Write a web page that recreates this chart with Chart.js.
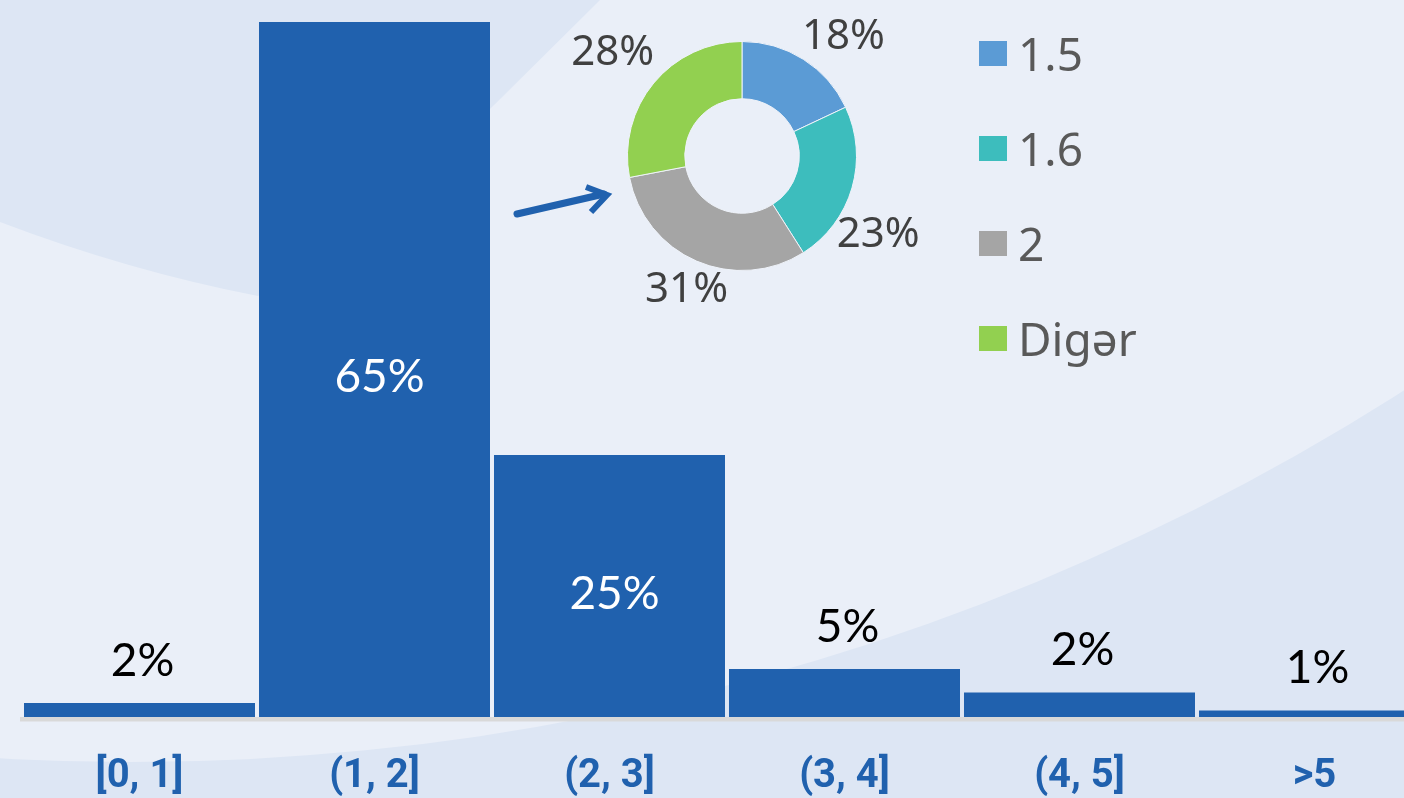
<!DOCTYPE html>
<html>
<head>
<meta charset="utf-8">
<script src="https://cdn.jsdelivr.net/npm/chart.js@4"></script>
<style>
    html, body { margin: 0; padding: 0; }
    body { width: 1404px; height: 798px; overflow: hidden; background: #eaeff8; position: relative; }
    #barCanvas { position: absolute; left: 0; top: 0; }
    #donutCanvas { position: absolute; left: 542px; top: -14px; }
    #donutLegend { position: absolute; left: 979px; top: 30px; font-family: 'Noto Sans', sans-serif; }
    .legend-item { display: flex; align-items: center; height: 47px; margin-bottom: 48px; }
    .legend-box { width: 28px; height: 25px; }
    .legend-text { margin-left: 11px; font-size: 46px; line-height: 47px; color: #595959; }
</style>
</head>
<body>
<canvas id="barCanvas" width="1440" height="798"></canvas>
<canvas id="donutCanvas" width="400" height="340"></canvas>
<div id="donutLegend"></div>

<script>
// ========== DATA ==========
const categories = ['[0, 1]', '(1, 2]', '(2, 3]', '(3, 4]', '(4, 5]', '>5'];
const barValues = [1.3, 65, 24.5, 4.5, 2.3, 0.6];          // bar heights as drawn
const barLabels = ['2%', '65%', '25%', '5%', '2%', '1%'];   // printed shares

const gradeLabels = ['1.5', '1.6', '2', 'Digər'];
const gradeShares = [18, 23, 31, 28];
const gradeColors = ['#5b9bd5', '#3dbdbd', '#a5a5a5', '#92d050'];

const BAR_BLUE = '#2061ae';
const BG_LIGHT = '#eaeff8';
const BG_DARK = '#dde6f4';

// label nudges for the donut (degrees along the ring, px outside the ring)
const donutLabelNudge = [
    { da: 8, dr: 42 },
    { da: 14, dr: 43 },
    { da: -1, dr: 31 },
    { da: -1, dr: 51 }
];

// ========== BACKGROUND + ARROW ==========
const bgPlugin = {
    id: 'bg',
    beforeDraw(chart) {
        const c = chart.ctx;
        c.save();
        c.fillStyle = BG_DARK;
        c.fillRect(0, 0, chart.width, chart.height);
        // big light arc
        c.beginPath();
        c.arc(131, -1604, 2366, 0, Math.PI * 2);
        c.fillStyle = BG_LIGHT;
        c.fill();
        // darker shape top-left
        c.beginPath();
        c.moveTo(0, 0);
        c.lineTo(600, 0);
        c.lineTo(491, 108);
        c.lineTo(258, 296);
        c.quadraticCurveTo(129, 271, 0, 222);
        c.closePath();
        c.fillStyle = BG_DARK;
        c.fill();
        c.restore();
    },
    afterDraw(chart) {
        const c = chart.ctx;
        c.save();
        c.strokeStyle = BAR_BLUE;
        c.lineWidth = 7;
        c.lineCap = 'round';
        c.beginPath();
        c.moveTo(517, 214);
        c.lineTo(604, 194);
        c.stroke();
        c.lineCap = 'butt';
        c.lineJoin = 'miter';
        c.lineWidth = 6;
        c.beginPath();
        c.moveTo(586, 187);
        c.lineTo(607, 195);
        c.lineTo(591, 212);
        c.stroke();
        c.restore();
    }
};

// ========== BAR LABELS + AXIS LINE ==========
const barLabelPlugin = {
    id: 'barLabels',
    afterDatasetsDraw(chart) {
        const c = chart.ctx;
        const area = chart.chartArea;
        c.save();
        c.fillStyle = '#d9d9d9';
        c.fillRect(20, area.bottom, chart.width - 20, 4.5);

        c.font = '400 46px Lato, sans-serif';
        c.textAlign = 'center';
        c.textBaseline = 'middle';
        chart.getDatasetMeta(0).data.forEach((bar, i) => {
            if (barValues[i] > 10) {
                c.fillStyle = '#ffffff';
                c.fillText(barLabels[i], bar.x + 5, (bar.y + bar.base) / 2 + 8);
            } else {
                c.fillStyle = '#000000';
                c.fillText(barLabels[i], bar.x + 3, bar.y - 42);
            }
        });
        c.restore();
    }
};

new Chart(document.getElementById('barCanvas'), {
    type: 'bar',
    data: {
        labels: categories,
        datasets: [{
            data: barValues,
            backgroundColor: BAR_BLUE,
            barPercentage: 0.983,
            categoryPercentage: 1
        }]
    },
    options: {
        responsive: false,
        animation: false,
        layout: { padding: { top: 22, left: 22, right: 8, bottom: 0 } },
        plugins: { legend: { display: false }, tooltip: { enabled: false } },
        scales: {
            x: {
                grid: { display: false, drawTicks: false },
                border: { display: false },
                ticks: {
                    color: BAR_BLUE,
                    font: { family: 'Roboto', weight: 'bold', size: 40 },
                    padding: 36,
                    maxRotation: 0,
                    autoSkip: false
                },
                afterFit: (s) => { s.height = 81; }
            },
            y: { display: false, min: 0, max: 65 }
        }
    },
    plugins: [bgPlugin, barLabelPlugin]
});

// ========== DONUT ==========
const donutLabelPlugin = {
    id: 'donutLabels',
    afterDatasetsDraw(chart) {
        const c = chart.ctx;
        c.save();
        c.font = '42px "Noto Sans", sans-serif';
        c.fillStyle = '#404040';
        c.textAlign = 'center';
        c.textBaseline = 'middle';
        chart.getDatasetMeta(0).data.forEach((arc, i) => {
            const n = donutLabelNudge[i];
            const mid = (arc.startAngle + arc.endAngle) / 2 + n.da * Math.PI / 180;
            const r = arc.outerRadius + n.dr;
            c.fillText(gradeShares[i] + '%', arc.x + Math.cos(mid) * r, arc.y + Math.sin(mid) * r);
        });
        c.restore();
    }
};

new Chart(document.getElementById('donutCanvas'), {
    type: 'doughnut',
    data: {
        labels: gradeLabels,
        datasets: [{
            data: gradeShares,
            backgroundColor: gradeColors,
            borderColor: '#eef2f9',
            borderWidth: 1
        }]
    },
    options: {
        responsive: false,
        animation: false,
        cutout: '50%',
        layout: { padding: { left: 85, right: 85, top: 55, bottom: 55 } },
        plugins: { legend: { display: false }, tooltip: { enabled: false } }
    },
    plugins: [donutLabelPlugin]
});

// ========== LEGEND ==========
const legendEl = document.getElementById('donutLegend');
gradeLabels.forEach((label, i) => {
    const item = document.createElement('div');
    item.className = 'legend-item';
    const box = document.createElement('div');
    box.className = 'legend-box';
    box.style.background = gradeColors[i];
    const text = document.createElement('span');
    text.className = 'legend-text';
    text.textContent = label;
    item.appendChild(box);
    item.appendChild(text);
    legendEl.appendChild(item);
});
</script>
</body>
</html>
